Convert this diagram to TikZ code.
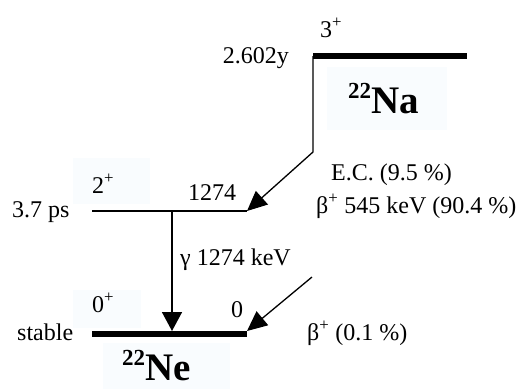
\documentclass[tikz,border=0pt]{standalone}
\usepackage{fontspec}
\setmainfont{Liberation Serif}
\usetikzlibrary{arrows.meta}
\definecolor{tint}{RGB}{249,252,254}
\newcommand{\isosup}[1]{\raisebox{15pt}{\fontsize{23}{23}\selectfont #1}}
\begin{document}
\begin{tikzpicture}[x=1pt,y=-1pt,
  lbl/.style={inner sep=0pt, anchor=base west, font=\fontsize{24}{28}\selectfont},
  nuc/.style={inner sep=0pt, anchor=base west, font=\fontsize{39}{42}\selectfont\bfseries},
  thicklevel/.style={line width=6pt},
  thinlevel/.style={line width=1.5pt},
  trans/.style={line width=1.3pt, -{Triangle[length=20pt,width=18pt]}},
  gamma/.style={line width=1.5pt, -{Triangle[length=19pt,width=20pt]}},
  tintbox/.style={fill=tint, draw=none}]
\useasboundingbox (0,0) rectangle (524,389);
% faint background patches
\fill[tintbox] (327,67) rectangle (447,130);
\fill[tintbox] (73,158) rectangle (150,204);
\fill[tintbox] (73,290) rectangle (141,328);
\fill[tintbox] (103,343) rectangle (230,389);
% level end points
\coordinate (NaL) at (313,56);
\coordinate (NaR) at (467,56);
\coordinate (L2L) at (92,211);
\coordinate (L2R) at (247,211);
\coordinate (L0L) at (92,334);
\coordinate (L0R) at (247,334);
\coordinate (bend) at (313,152);
\coordinate (b2start) at (312,277);
\coordinate (gtop) at (172,211);
\coordinate (gbot) at (172,331);
\coordinate (b2tip) at (247,331);
% levels
\draw[thicklevel] (NaL) -- (NaR);
\draw[thinlevel] (L2L) -- (L2R);
\draw[thicklevel] (L0L) -- (L0R);
% transitions
\draw[trans] (NaL) -- (bend) -- (L2R);
\draw[trans] (b2start) -- (b2tip);
\draw[gamma] (gtop) -- (gbot);
% labels
\node[lbl] (spinNa) at (320,37) {3\textsuperscript{+}};
\node[lbl, anchor=base east] (tNa) at (289,63) {2.602y};
\node[nuc] (Na) at (348,113) {\isosup{22}Na};
\node[lbl] (ec) at (331,180) {E.C. (9.5 \%)};
\node[lbl] (bp) at (316,213) {β\textsuperscript{+} 545 keV (90.4 \%)};
\node[lbl] (t2) at (12,217) {3.7 ps};
\node[lbl] (s2) at (92,193) {2\textsuperscript{+}};
\node[lbl] (e2) at (188,200) {1274};
\node[lbl] (gl) at (180,265) {γ 1274 keV};
\node[lbl] (s0) at (92,312) {0\textsuperscript{+}};
\node[lbl] (e0) at (231,317) {0};
\node[lbl] (t0) at (17,340) {stable};
\node[lbl] (bp2) at (307,340) {β\textsuperscript{+} (0.1 \%)};
\node[nuc] (Ne) at (122,380) {\isosup{22}Ne};
\end{tikzpicture}
\end{document}
